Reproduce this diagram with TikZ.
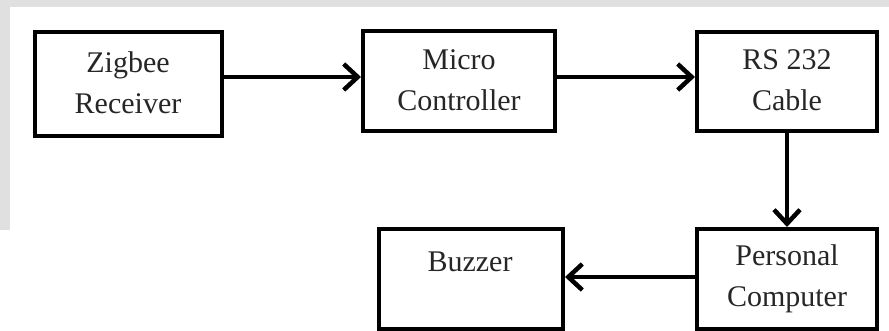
\documentclass[tikz,border=0pt]{standalone}
\usepackage{fontspec}
\setmainfont{Liberation Serif}
\usetikzlibrary{arrows.meta}
\begin{document}
\begin{tikzpicture}[x=1pt,y=-1pt,
  blk/.style={draw=black,line width=4.5pt,inner sep=0pt},
  lbl/.style={font=\fontsize{30}{41}\selectfont,align=center,text=black!85},
  conn/.style={line width=4.5pt,-{Straight Barb[length=14pt,width=26pt,line width=4.5pt]}}]
\useasboundingbox (0,0) rectangle (889,330);
\fill[white] (0,0) rectangle (889,330);
\fill[black!12] (0,0) rectangle (889,7);
\fill[black!12] (0,0) rectangle (10,230);
% boxes
\draw[blk] (35,32) rectangle (222,136);
\draw[blk] (363,31) rectangle (555,131);
\draw[blk] (697,32) rectangle (877,131);
\draw[blk] (379,229) rectangle (563,329);
\draw[blk] (697,229) rectangle (877,329);
\node[lbl] (zig) at (128,83) {Zigbee\\Receiver};
\node[lbl] (mic) at (459,80) {Micro\\Controller};
\node[lbl] (rs) at (787,80) {RS 232\\Cable};
\node[lbl] (pc) at (787,279) {Personal\\Computer};
\node[lbl] (buz) at (470,262) {Buzzer};
\coordinate (zigR) at (222,77);
\coordinate (micL) at (361,77);
\coordinate (micR) at (555,77);
\coordinate (rsL) at (695,77);
\coordinate (rsB) at (787,131);
\coordinate (pcT) at (787,227);
\coordinate (pcL) at (697,277);
\coordinate (buzR) at (565,277);
\draw[conn] (zigR) -- (micL);
\draw[conn] (micR) -- (rsL);
\draw[conn] (rsB) -- (pcT);
\draw[conn] (pcL) -- (buzR);
\end{tikzpicture}
\end{document}
